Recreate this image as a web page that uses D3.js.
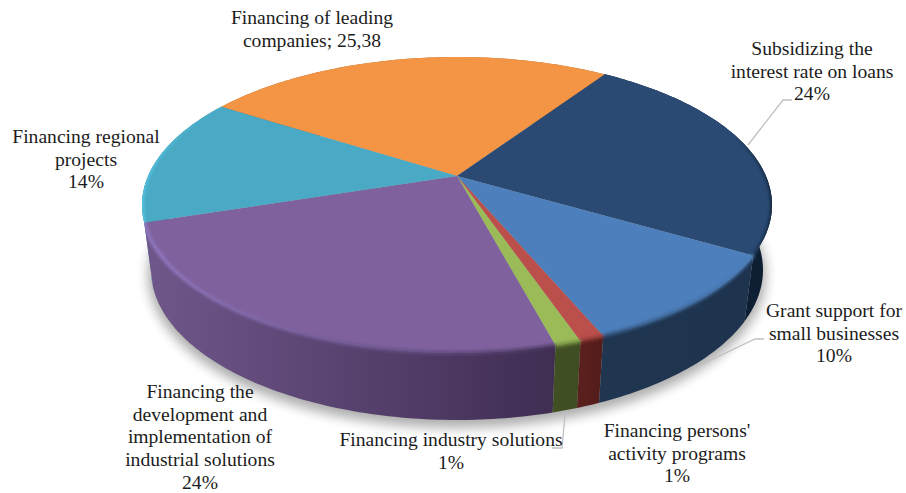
<!DOCTYPE html>
<meta charset="utf-8">
<style>
body { margin: 0; background: #fff; }
.label { font: 19.6px "Liberation Serif", "Times New Roman", serif; fill: #1c1c1c; text-anchor: middle; }
.leader { fill: none; stroke: #c0c0c0; stroke-width: 1.3; }
</style>
<body>
<script src="https://d3js.org/d3.v7.min.js"></script>
<script>

// values (shares of the circle, slice order is clockwise from the orange one)
const categories = ["leading", "interest", "grant", "persons", "industry", "development", "regional"];
const values = [25.38, 24, 10.27, 1.06, 1.12, 24.2, 14];

const labelLines = [
  ["Financing of leading", "companies; 25,38"],
  ["Subsidizing the", "interest rate on loans", "24%"],
  ["Grant support for", "small businesses", "10%"],
  ["Financing persons'", "activity programs", "1%"],
  ["Financing industry solutions", "1%"],
  ["Financing the", "development and", "implementation of", "industrial solutions", "24%"],
  ["Financing regional", "projects", "14%"]
];

const topColors = ["#f39545", "#2a4a73", "#4c7fbb", "#bb4f4c", "#9bbb59", "#7f619d", "#4aa9c4"];
const sideLeft = ["#b06a30", "#0f1f33", "#1f3550", "#5a201d", "#414f24", "#70578b", "#3a8fa5"];
const sideRight = ["#b06a30", "#0f1f33", "#1e334e", "#521d1b", "#3f4d23", "#3f2d52", "#3a8fa5"];
const rimLeft = ["#f39545", "#2a4a73", "#2f4f78", "#8a3431", "#6f8a3c", "#9379c4", "#55c6e4"];
const rimRight = ["#f39545", "#13243a", "#4c7fbb", "#8f3a37", "#75913f", "#4b3862", "#4aa9c4"];

const width = 906, height = 493;

// top and bottom ellipse of the disc; tilt moves the centre away from the viewer
const topFace = {cx: 457, cy: 205, rx: 315, ry: 148};
const baseFace = {cx: 457, cy: 270, rx: 306, ry: 150};
const tilt = 0.196;

function project(a, r, face) {
  let u = r * Math.sin(a), v = r * Math.cos(a);
  let d = 1 + tilt * v;
  return [face.cx + face.rx * u * Math.sqrt(1 - tilt * tilt) / d,
          face.cy - face.ry * (v + tilt) / d];
}

function rim(d, face) {
  let n = Math.max(6, Math.ceil((d.endAngle - d.startAngle) * 60));
  return d3.range(n + 1).map(i => project(d.startAngle + (d.endAngle - d.startAngle) * i / n, 1, face));
}

const line = d3.line();

const pie = d3.pie().sort(null)
    .startAngle(-57.5 / 180 * Math.PI)
    .endAngle(302.5 / 180 * Math.PI);
const slices = pie(values);

const svg = d3.select("body").append("svg")
    .attr("width", width)
    .attr("height", height)
    .style("display", "block");

const defs = svg.append("defs");
defs.append("filter").attr("id", "shadow")
    .attr("x", "-10%").attr("y", "-10%").attr("width", "120%").attr("height", "120%")
  .append("feGaussianBlur").attr("stdDeviation", 6);
defs.append("filter").attr("id", "soft")
    .attr("filterUnits", "userSpaceOnUse")
    .attr("x", 0).attr("y", 0).attr("width", width).attr("height", height)
  .append("feGaussianBlur").attr("stdDeviation", 1.6);

function gradient(id, d, from, to, start) {
  let pts = rim(d, topFace);
  let g = defs.append("linearGradient").attr("id", id)
      .attr("gradientUnits", "userSpaceOnUse")
      .attr("x1", d3.min(pts, p => p[0])).attr("x2", d3.max(pts, p => p[0]))
      .attr("y1", 0).attr("y2", 0);
  g.append("stop").attr("offset", start).attr("stop-color", from);
  g.append("stop").attr("offset", 1).attr("stop-color", to);
}

slices.forEach((d, i) => {
  gradient("side" + i, d, sideLeft[i], sideRight[i], 0);
  // the dark navy edge only starts near the right end
  gradient("rim" + i, d, rimLeft[i], rimRight[i], i === 1 ? 0.75 : 0);
});

function wallPath(d) {
  return line(rim(d, topFace).concat(rim(d, baseFace).reverse())) + "Z";
}
function topPath(d) {
  return line([project(0, 0, topFace)].concat(rim(d, topFace))) + "Z";
}

// the bevel must not spill past the disc
const clip = defs.append("clipPath").attr("id", "disc");
slices.forEach(d => {
  clip.append("path").attr("d", wallPath(d));
  clip.append("path").attr("d", topPath(d));
});

// soft shadow under the disc
svg.append("ellipse")
    .attr("cx", baseFace.cx)
    .attr("cy", baseFace.cy + 5)
    .attr("rx", baseFace.rx + 3)
    .attr("ry", baseFace.ry + 3)
    .attr("fill", "#000")
    .attr("opacity", 0.32)
    .attr("filter", "url(#shadow)");

// walls, far slices first so the front ones cover them
const wallOrder = [0, 1, 6, 5, 4, 3, 2];
svg.append("g").selectAll("path")
    .data(wallOrder.map(i => slices[i]))
  .join("path")
    .attr("d", wallPath)
    .attr("fill", d => "url(#side" + d.index + ")");

// slice tops
svg.append("g").selectAll("path")
    .data(slices)
  .join("path")
    .attr("d", topPath)
    .attr("fill", d => topColors[d.index]);

// bevel along the rim
svg.append("g").attr("clip-path", "url(#disc)")
  .append("g").attr("filter", "url(#soft)").selectAll("path")
    .data(slices.filter(d => d.index !== 0))
  .join("path")
    .attr("d", d => line(rim(d, topFace)))
    .attr("fill", "none")
    .attr("stroke", d => "url(#rim" + d.index + ")")
    .attr("stroke-width", 3.5);

// leader lines
const leaders = [
  [[748, 145], [783, 100], [792, 100]],
  [[688, 371], [755, 339], [764, 339]],
  [[565, 414], [562, 448], [552, 448]]
];
svg.append("g").selectAll("path")
    .data(leaders)
  .join("path")
    .attr("class", "leader")
    .attr("d", line);

// labels: centre x and first baseline, same order as the categories
const labelX = [312, 812, 834, 677, 451, 200, 86];
const labelY = [24, 55, 317, 437, 446, 398, 143];

const labels = svg.append("g").selectAll("text")
    .data(categories)
  .join("text")
    .attr("class", "label")
    .attr("x", (d, i) => labelX[i])
    .attr("y", (d, i) => labelY[i]);

labels.each(function(d, i) {
  d3.select(this).selectAll("tspan")
      .data(labelLines[i])
    .join("tspan")
      .attr("x", labelX[i])
      .attr("dy", (t, j) => j ? 22.7 : 0)
      .text(t => t);
});
</script>
